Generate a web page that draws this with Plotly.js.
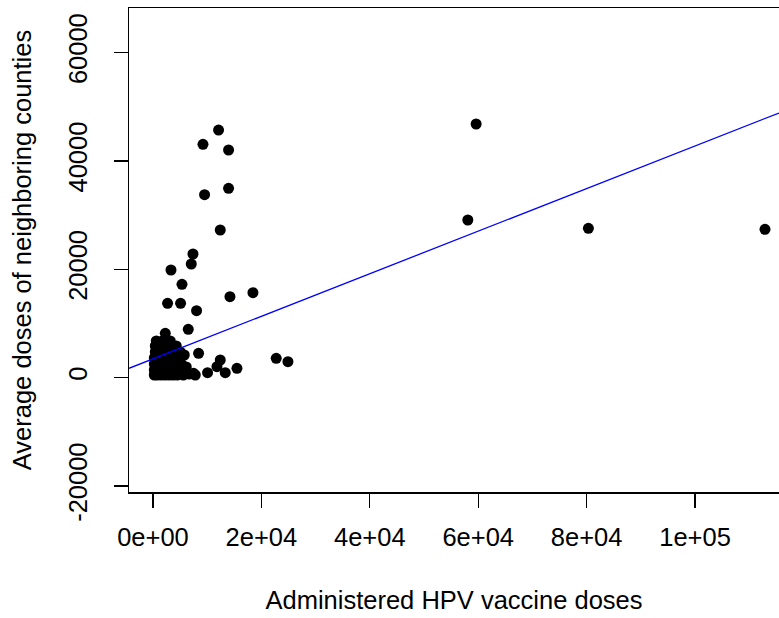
<!DOCTYPE html>
<html>
<head>
<meta charset="utf-8">
<script src="https://cdn.plot.ly/plotly-3.0.1.min.js"></script>
<style>html,body{margin:0;padding:0;background:#fff;}#chart{width:779px;height:618px;}</style>
</head>
<body>
<div id="chart"></div>
<script>
// Administered HPV vaccine doses (x) vs average doses of neighboring counties (y)
var administeredDoses = [
  12097, 9220, 13941, 9515, 13941, 12410, 7376, 7063, 3319, 5348,
  14199, 18440, 2692, 5089, 8040, 6509, 2268, 8409, 12410, 22736,
  24894, 15490, 7800, 10068, 11802, 13332, 59617, 58086, 80325, 112908,
  7487, 5587,
  240, 793, 1531, 2268, 3006, 3743, 4481,
  240, 959, 1899, 2821, 3743, 4665, 5588,
  240, 1162, 2084, 3006, 4112, 5219,
  240, 1346, 2453, 3559, 4665,
  424, 1531, 2637, 3743, 5034,
  424, 1531, 2821, 4297,
  608, 1715, 3190,
  6141, 6694, 5772
];
var neighborDoses = [
  45672, 43052, 42000, 33752, 34933, 27238, 22809, 20963, 19856, 17217,
  14929, 15667, 13711, 13711, 12345, 8913, 8175, 4484, 3248, 3562,
  2934, 1716, 480, 904, 2011, 904, 46798, 29083, 27551, 27367,
  793, 480,
  480, 480, 480, 480, 480, 480, 480,
  1402, 1402, 1402, 1402, 1402, 1402, 1402,
  2509, 2509, 2509, 2509, 2509, 2509,
  3616, 3616, 3616, 3616, 3616,
  4723, 4723, 4723, 4723, 4723,
  5830, 5830, 5830, 5830,
  6753, 6753, 6753,
  1956, 664, 4170
];
// Linear fit y = intercept + slope * x
var fitIntercept = 3455;
var fitSlope = 0.3929;

var xTickVals = [0, 20000, 40000, 60000, 80000, 100000];
var xTickText = ["0e+00", "2e+04", "4e+04", "6e+04", "8e+04", "1e+05"];
var yTickVals = [-20000, 0, 20000, 40000, 60000];
var yTickText = ["-20000", "0", "20000", "40000", "60000"];

var xRange = [-4426, 115490];
var yRange = [-21111, 68206];

var fitX = xRange.slice();
var fitY = fitX.map(function (v) { return fitIntercept + fitSlope * v; });

var font = {family: "Liberation Sans, Arial, sans-serif", size: 25.5, color: "#000"};

var traces = [
  {
    x: administeredDoses, y: neighborDoses, type: "scatter", mode: "markers",
    marker: {color: "#000", size: 11, line: {width: 0}},
    cliponaxis: true, hoverinfo: "x+y"
  },
  {
    x: fitX, y: fitY, type: "scatter", mode: "lines",
    line: {color: "#0000FF", width: 1.3}, hoverinfo: "skip"
  }
];

var layout = {
  width: 779, height: 618,
  margin: {l: 128.7, r: 0, t: 8, b: 126},
  paper_bgcolor: "#fff", plot_bgcolor: "#fff",
  showlegend: false,
  font: font,
  xaxis: {
    range: xRange, autorange: false,
    tickvals: xTickVals, ticktext: xTickText,
    ticks: "outside", ticklen: 14, tickwidth: 1.3, tickcolor: "#000",
    ticklabelstandoff: 8,
    showline: true, linecolor: "#000", linewidth: 1.5, mirror: true,
    showgrid: false, zeroline: false,
    tickfont: font,
    title: {text: "Administered HPV vaccine doses", font: font, standoff: 41}
  },
  yaxis: {
    range: yRange, autorange: false,
    tickvals: yTickVals, ticktext: yTickText,
    tickangle: -90,
    ticks: "outside", ticklen: 14, tickwidth: 1.3, tickcolor: "#000",
    ticklabelstandoff: 16,
    showline: true, linecolor: "#000", linewidth: 1.5, mirror: false,
    showgrid: false, zeroline: false,
    tickfont: font,
    title: {text: "Average doses of neighboring counties", font: font, standoff: 25}
  }
};

Plotly.newPlot("chart", traces, layout, {staticPlot: true, displayModeBar: false});
</script>
</body>
</html>
